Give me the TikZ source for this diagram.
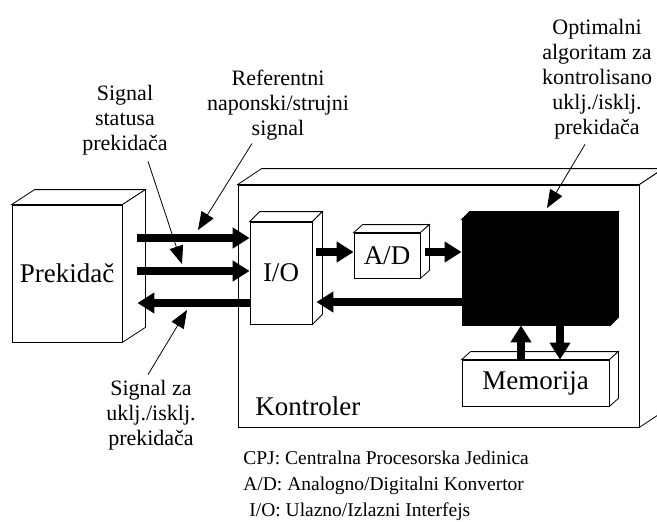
\documentclass[tikz,border=0pt]{standalone}
\usepackage{fontspec}
\setmainfont{Liberation Serif}
\usetikzlibrary{arrows.meta,positioning,calc}

\tikzset{
  face/.style={draw, fill=white, inner sep=0pt, font=\fontsize{27}{30}\selectfont},
  bigarrow/.style={line width=8pt, -{Triangle[length=17pt,width=20pt]}},
  pointer/.style={line width=0.8pt, -{Triangle[length=18pt,width=14pt]}},
  note/.style={align=center, inner sep=0pt, font=\fontsize{22}{25}\selectfont},
}
% top and side face of a box, behind its front face
\newcommand{\boxdepth}[4][white]{%
  \filldraw[fill=#1] (#2.north west) -- ++(#3,#4) -- ($(#2.north east)+(#3,#4)$) -- (#2.north east) -- cycle;
  \filldraw[fill=#1] (#2.north east) -- ($(#2.north east)+(#3,#4)$) -- ($(#2.south east)+(#3,#4)$) -- (#2.south east) -- cycle;
}

\begin{document}
\begin{tikzpicture}[x=1pt, y=-1pt, line width=0.8pt]
    \useasboundingbox (0,0) rectangle (657,522);

    % Controller
    \node[face, minimum width=401pt, minimum height=242pt] (ctrl) at (438.5,306) {};
    \boxdepth{ctrl}{24}{-16}
    \node[face, draw=none, fill=none, anchor=base west] (ctxt) at (255,415) {Kontroler};

    % Blocks
    \node[face, minimum width=110pt, minimum height=137pt] (prek) at (67,273.5) {Prekidač};
    \boxdepth{prek}{23}{-15}
    \node[face, minimum width=62pt, minimum height=102pt] (io) at (281,273) {I/O};
    \boxdepth{io}{10}{-10}
    \node[face, minimum width=66pt, minimum height=45pt] (ad) at (387,255.5) {A/D};
    \boxdepth{ad}{9}{-8}
    \node[face, fill=black, minimum width=148pt, minimum height=105pt] (cpj) at (536,272.5) {};
    \boxdepth[black]{cpj}{8}{-8}
    \node[face, minimum width=147pt, minimum height=46pt] (mem) at (535.5,383) {Memorija};
    \boxdepth{mem}{9}{-8}

    % Signal arrows
    \coordinate (pside) at ([xshift=15pt]prek.east);
    \coordinate (ioside) at ([xshift=4pt]io.east);
    \coordinate (adside) at ([xshift=5pt]ad.east);
    \foreach \yy in {238,271} \draw[bigarrow] (pside |- 0,\yy) -- (io.west |- 0,\yy);
    \draw[bigarrow] (io.west |- 0,303) -- (pside |- 0,303);
    \draw[bigarrow] (ioside |- 0,252) -- (ad.west |- 0,252);
    \draw[bigarrow] (adside |- 0,252) -- (cpj.west |- 0,252);
    \draw[bigarrow] (cpj.west |- 0,302) -- (ioside |- 0,302);
    \draw[bigarrow] (521,0 |- mem.north) -- (521,0 |- cpj.south);
    \draw[bigarrow] (560,0 |- cpj.south) -- (560,0 |- mem.north);

    % Notes
    \node[note] (stat) at (125,120) {Signal\\statusa\\prekidača};
    \node[note] (ref) at (278,105) {Referentni\\naponski/strujni\\signal};
    \node[note] (alg) at (597,79) {Optimalni\\algoritam za\\kontrolisano\\uklj./isklj.\\prekidača};
    \node[note] (sw) at (151,415) {Signal za\\uklj./isklj.\\prekidača};

    \coordinate (t1) at (182,264);
    \coordinate (t2) at (198,230);
    \coordinate (t3) at (547,208);
    \coordinate (t4) at (187,310);
    \draw[pointer] ([xshift=23pt,yshift=-6pt]stat.south) -- (t1);
    \draw[pointer] ([xshift=-26pt,yshift=-3pt]ref.south) -- (t2);
    \draw[pointer] ([xshift=-12pt,yshift=-5pt]alg.south) -- (t3);
    \draw[pointer] ([xshift=-3pt,yshift=5pt]sw.north) -- (t4);

    % Legend
    \node[align=left, anchor=north west, inner sep=0pt, font=\fontsize{19.5}{26}\selectfont] (leg) at (243,451)
      {CPJ: Centralna Procesorska Jedinica\\A/D: Analogno/Digitalni Konvertor\\\hspace{6pt}I/O: Ulazno/Izlazni Interfejs};
\end{tikzpicture}
\end{document}
